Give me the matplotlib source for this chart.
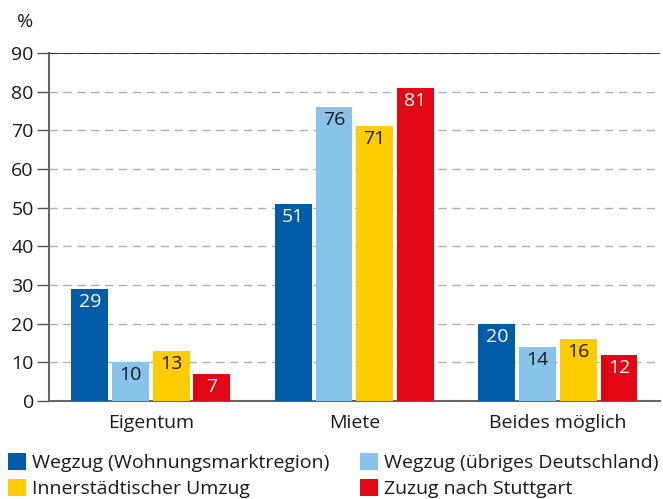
import numpy as np
import matplotlib.pyplot as plt
from matplotlib.patches import Patch

plt.rcParams['font.family'] = ['Open Sans', 'DejaVu Sans']

# === Daten ===
kategorien = ["Eigentum", "Miete", "Beides möglich"]
serien = ["Wegzug (Wohnungsmarktregion)", "Wegzug (übriges Deutschland)",
          "Innerstädtischer Umzug", "Zuzug nach Stuttgart"]
wegzug_region = [29, 51, 20]
wegzug_deutschland = [10, 76, 14]
innerstaedtisch = [13, 71, 16]
zuzug = [7, 81, 12]

werte = [wegzug_region, wegzug_deutschland, innerstaedtisch, zuzug]
farben = ["#005CA9", "#87C3EA", "#FFCC00", "#E30613"]
textfarben = ["white", "#1a1a1a", "#1a1a1a", "white"]

fs = 14

fig = plt.figure(figsize=(6.63, 4.99), dpi=100)
ax = fig.add_axes([0.074, 0.196, 0.921, 0.698])

x = np.arange(len(kategorien))
breite = 0.181
schritt = 0.2
for i, (w, f, tf) in enumerate(zip(werte, farben, textfarben)):
    pos = x + (i - 1.5) * schritt
    bars = ax.bar(pos, w, width=breite, color=f, zorder=3)
    for b, v in zip(bars, w):
        ax.text(b.get_x() + b.get_width() / 2, v - 1.0, str(v),
                ha="center", va="top", color=tf, fontsize=fs, zorder=4)

ax.set_xlim(-0.5, 2.5)
ax.set_ylim(0, 90)
ax.set_yticks(range(0, 91, 10))
ax.tick_params(axis="y", length=9, width=1, color="#555555", labelsize=fs,
               labelcolor="#1a1a1a", pad=2)
ax.set_xticks(x)
ax.set_xticklabels(kategorien, fontsize=fs, color="#1a1a1a")
ax.tick_params(axis="x", length=0, pad=9)

ax.grid(axis="y", color="#b0b0b0", linestyle=(0, (6, 4)), linewidth=1, zorder=0)
ax.axhline(90, color="#1a1a1a", linewidth=1.2, zorder=5)
for s in ["top", "right"]:
    ax.spines[s].set_visible(False)
ax.spines["left"].set_color("#666666")
ax.spines["left"].set_linewidth(1.5)
ax.spines["bottom"].set_color("#666666")
ax.spines["bottom"].set_linewidth(1.5)

fig.text(0.038, 0.955, "%", fontsize=fs, ha="center", va="center", color="#1a1a1a")

# Legende zeilenweise wie im Original
reihenfolge = [0, 2, 1, 3]
handles = [Patch(facecolor=farben[k], edgecolor="none") for k in reihenfolge]
labels = [serien[k] for k in reihenfolge]
fig.legend(handles, labels, loc="upper left", bbox_to_anchor=(0.012, 0.092),
           ncol=2, frameon=False, fontsize=fs, handlelength=0.95, handleheight=0.95,
           handletextpad=0.3, columnspacing=1.55, labelspacing=0.35,
           borderaxespad=0, borderpad=0, labelcolor="#1a1a1a")

fig.savefig("out.png", dpi=100)
